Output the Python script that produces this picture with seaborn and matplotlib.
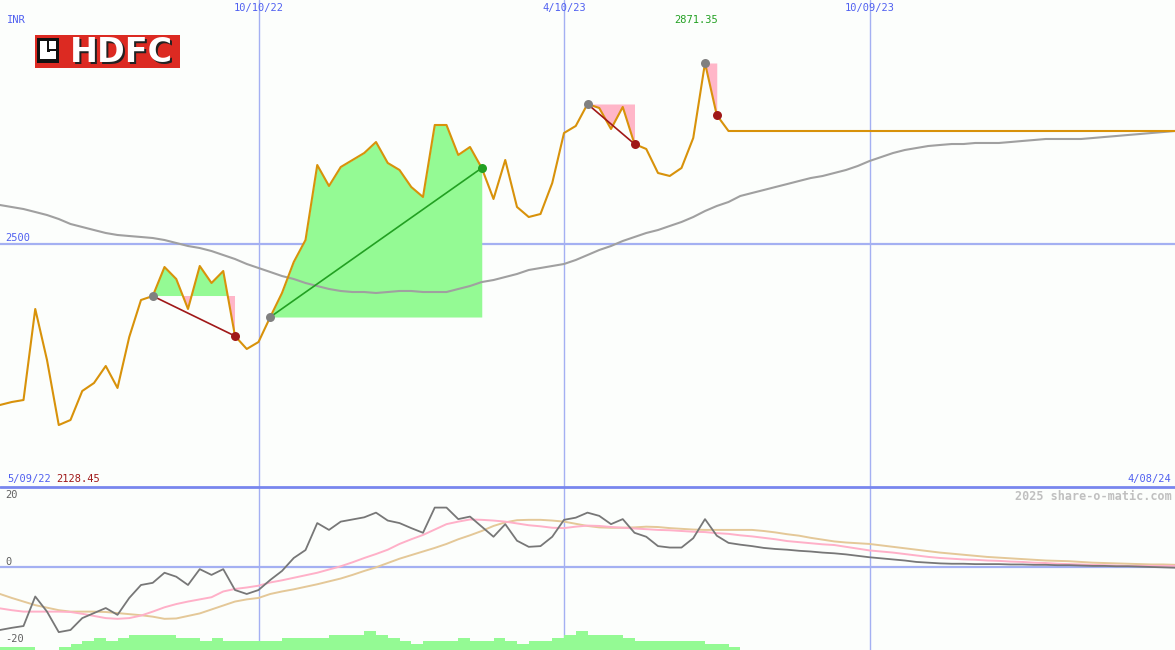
import matplotlib
matplotlib.use('Agg')
import matplotlib.pyplot as plt
import matplotlib.dates as mdates
import seaborn as sns
import pandas as pd
import numpy as np
from matplotlib.patches import Rectangle
from matplotlib.lines import Line2D
import matplotlib.transforms as mtrans

# ---------------- data ----------------
start_date = '2022-05-09'
n_weeks = 101

price = [2169.6, 2175.7, 2179.8, 2366.6, 2261.9, 2128.45, 2138.8, 2198.3, 2214.7, 2249.6,
         2204.5, 2309.1, 2385.0, 2393.2, 2452.7, 2428.1, 2366.6, 2454.8, 2419.9, 2444.5,
         2311.1, 2284.5, 2298.8, 2350.1, 2399.4, 2463.0, 2508.1, 2662.0, 2619.0, 2657.9,
         2672.3, 2686.7, 2709.2, 2666.2, 2651.8, 2616.9, 2596.4, 2744.1, 2744.1, 2682.6,
         2699.0, 2655.9, 2592.3, 2672.3, 2575.9, 2555.3, 2561.5, 2625.1, 2727.7, 2742.1,
         2787.2, 2779.0, 2735.9, 2781.1, 2705.1, 2694.9, 2645.6, 2639.5, 2655.9, 2717.5,
         2871.35, 2764.6, 2731.8, 2731.8, 2731.8, 2731.8, 2731.8, 2731.8, 2731.8, 2731.8,
         2731.8, 2731.8, 2731.8, 2731.8, 2731.8, 2731.8, 2731.8, 2731.8, 2731.8, 2731.8,
         2731.8, 2731.8, 2731.8, 2731.8, 2731.8, 2731.8, 2731.8, 2731.8, 2731.8, 2731.8,
         2731.8, 2731.8, 2731.8, 2731.8, 2731.8, 2731.8, 2731.8, 2731.8, 2731.8, 2731.8,
         2731.8]

moving_avg = [2579.9, 2575.8, 2571.7, 2565.6, 2559.4, 2551.2, 2541.0, 2534.8, 2528.6, 2522.5,
              2518.4, 2516.3, 2514.3, 2512.2, 2508.1, 2502.0, 2495.8, 2491.7, 2485.5, 2477.3,
              2469.1, 2458.9, 2450.7, 2442.5, 2434.2, 2428.1, 2419.9, 2413.7, 2407.6, 2403.5,
              2401.4, 2401.4, 2399.4, 2401.4, 2403.5, 2403.5, 2401.4, 2401.4, 2401.4, 2407.6,
              2413.7, 2421.9, 2426.0, 2432.2, 2438.4, 2446.6, 2450.7, 2454.8, 2458.9, 2467.1,
              2477.3, 2487.6, 2495.8, 2506.1, 2514.3, 2522.5, 2528.6, 2536.9, 2545.1, 2555.3,
              2567.6, 2577.9, 2586.1, 2598.4, 2604.6, 2610.7, 2616.9, 2623.0, 2629.2, 2635.3,
              2639.4, 2645.6, 2651.8, 2660.0, 2670.2, 2678.4, 2686.6, 2692.8, 2696.9, 2701.0,
              2703.1, 2705.1, 2705.1, 2707.2, 2707.2, 2707.2, 2709.2, 2711.3, 2713.3, 2715.4,
              2715.4, 2715.4, 2715.4, 2717.4, 2719.5, 2721.5, 2723.6, 2725.6, 2727.7, 2729.7,
              2731.8]

oscillator = [-17.5, -16.9, -16.4, -8.2, -12.4, -18.1, -17.5, -14.2, -12.8, -11.4,
              -13.3, -8.6, -5.0, -4.4, -1.6, -2.7, -5.0, -0.6, -2.2, -0.6,
              -6.4, -7.5, -6.4, -3.6, -1.1, 2.5, 4.7, 12.2, 10.3, 12.6,
              13.2, 13.8, 15.1, 12.9, 12.2, 10.8, 9.5, 16.5, 16.5, 13.3,
              14.0, 11.2, 8.4, 11.9, 7.3, 5.6, 5.8, 8.4, 13.1, 13.7,
              15.1, 14.2, 11.9, 13.3, 9.5, 8.4, 5.8, 5.4, 5.4, 8.0,
              13.3, 8.7, 6.7, 6.2, 5.8, 5.3, 5.0, 4.8, 4.5, 4.3,
              4.0, 3.8, 3.5, 3.1, 2.7, 2.4, 2.1, 1.8, 1.4, 1.2,
              1.0, 0.9, 0.9, 0.8, 0.8, 0.8, 0.7, 0.7, 0.6, 0.6,
              0.5, 0.5, 0.4, 0.3, 0.3, 0.2, 0.2, 0.1, 0.0, -0.1,
              -0.2]

signal_fast = [-11.5, -12.0, -12.4, -12.4, -12.4, -12.4, -12.5, -13.0, -13.6, -14.2,
               -14.4, -14.2, -13.5, -12.4, -11.2, -10.3, -9.6, -9.0, -8.4, -6.8,
               -6.1, -5.7, -5.2, -4.3, -3.7, -3.0, -2.3, -1.6, -0.7, 0.2,
               1.3, 2.5, 3.6, 4.8, 6.4, 7.7, 8.9, 10.4, 11.9, 12.6,
               13.2, 13.1, 12.9, 12.6, 12.1, 11.6, 11.3, 10.9, 10.8, 11.2,
               11.5, 11.4, 11.1, 10.9, 10.7, 10.5, 10.3, 10.2, 10.0, 9.8,
               9.7, 9.4, 9.2, 8.8, 8.5, 8.1, 7.7, 7.2, 6.9, 6.6,
               6.3, 6.1, 5.6, 5.1, 4.6, 4.3, 4.0, 3.6, 3.2, 2.8,
               2.5, 2.3, 2.1, 2.0, 1.8, 1.7, 1.5, 1.4, 1.2, 1.1,
               0.9, 0.8, 0.7, 0.6, 0.5, 0.4, 0.3, 0.3, 0.3, 0.3,
               0.3]

signal_slow = [-7.5, -8.6, -9.6, -10.6, -11.3, -12.0, -12.4, -12.4, -12.4, -12.5,
               -12.8, -13.1, -13.4, -13.8, -14.4, -14.3, -13.6, -12.9, -11.8, -10.7,
               -9.6, -9.0, -8.6, -7.5, -6.8, -6.2, -5.5, -4.8, -4.0, -3.2,
               -2.2, -1.1, -0.1, 1.1, 2.3, 3.3, 4.3, 5.3, 6.4, 7.7,
               8.8, 10.0, 11.4, 12.4, 13.0, 13.1, 13.1, 12.9, 12.6, 12.0,
               11.4, 11.0, 10.9, 10.9, 11.0, 11.2, 11.1, 10.8, 10.6, 10.4,
               10.3, 10.3, 10.3, 10.3, 10.3, 10.0, 9.6, 9.1, 8.7, 8.1,
               7.6, 7.1, 6.8, 6.6, 6.4, 6.0, 5.6, 5.2, 4.8, 4.4,
               4.0, 3.7, 3.4, 3.1, 2.8, 2.6, 2.4, 2.2, 2.0, 1.8,
               1.7, 1.6, 1.4, 1.2, 1.1, 1.0, 0.9, 0.8, 0.7, 0.7,
               0.6]

volume_bars = [0.9, 0.9, 0.9, 0.0, 0.0, 0.9, 1.8, 2.6, 3.4, 2.6,
               3.4, 4.3, 4.3, 4.3, 4.3, 3.4, 3.4, 2.6, 3.4, 2.6,
               2.6, 2.6, 2.6, 2.6, 3.4, 3.4, 3.4, 3.4, 4.3, 4.3,
               4.3, 5.2, 4.3, 3.4, 2.6, 1.8, 2.6, 2.6, 2.6, 3.4,
               2.6, 2.6, 3.4, 2.6, 1.8, 2.6, 2.6, 3.4, 4.3, 5.2,
               4.3, 4.3, 4.3, 3.4, 2.6, 2.6, 2.6, 2.6, 2.6, 2.6,
               1.8, 1.8, 0.9, 0.0, 0.0, 0.0, 0.0, 0.0, 0.0, 0.0,
               0.0, 0.0, 0.0, 0.0, 0.0, 0.0, 0.0, 0.0, 0.0, 0.0,
               0.0, 0.0, 0.0, 0.0, 0.0, 0.0, 0.0, 0.0, 0.0, 0.0,
               0.0, 0.0, 0.0, 0.0, 0.0, 0.0, 0.0, 0.0, 0.0, 0.0,
               0.0]

# trade signals: (start week index, end week index, kind)
signals = [(13, 20, 'sell'), (23, 41, 'buy'), (50, 54, 'sell'), (60, 61, 'sell')]

grid_dates = ['2022-10-10', '2023-04-10', '2023-10-09']
grid_labels = ['10/10/22', '4/10/23', '10/09/23']
start_label = '5/09/22'
end_label = '4/08/24'
price_grid = 2500

# ---------------- style ----------------
BG = '#fcfefc'
ORANGE = '#d8920a'
MAGRAY = '#a0a0a0'
GRID = '#a4b0f2'
DIVIDER = '#7886ee'
BLUE = '#5060f0'
GREEN_FILL = '#94fa94'
PINK_FILL = '#ffb6c8'
DARKRED = '#a01818'
GREEN_LINE = '#22a022'
DOT_GRAY = '#808080'

sns.set_theme(style='white')
plt.rcParams['font.family'] = ['DejaVu Sans Mono', 'DejaVu Sans']

dates = pd.date_range(start_date, periods=n_weeks, freq='7D')
dnum = mdates.date2num(dates.to_pydatetime())
df = pd.DataFrame({'date': dates, 'price': price, 'ma': moving_avg,
                   'osc': oscillator, 'fast': signal_fast, 'slow': signal_slow,
                   'vol': volume_bars})

fig = plt.figure(figsize=(11.75, 6.5), dpi=100, facecolor=BG)
ax = fig.add_axes([0, 163 / 650, 1, 487 / 650], facecolor=BG)
ax2 = fig.add_axes([0, 0, 1, 163 / 650], facecolor=BG)

# ---------------- main panel ----------------
ymin_main, ymax_main = 2001.3, 3000.6
p = np.array(price)

for gd in grid_dates:
    ax.axvline(pd.Timestamp(gd), color=GRID, lw=1.0, zorder=0)
ax.axhline(price_grid, color=GRID, lw=1.6, zorder=0)

for s, e, kind in signals:
    level = p[s]
    seg = slice(s, e + 1)
    ax.fill_between(dates[seg], p[seg], level, where=p[seg] >= level,
                    interpolate=True, color=GREEN_FILL, lw=0, zorder=1)
    ax.fill_between(dates[seg], p[seg], level, where=p[seg] <= level,
                    interpolate=True, color=PINK_FILL, lw=0, zorder=1)

sns.lineplot(data=df, x='date', y='ma', ax=ax, color=MAGRAY, lw=1.5, zorder=2)
sns.lineplot(data=df, x='date', y='price', ax=ax, color=ORANGE, lw=1.5, zorder=3)

for s, e, kind in signals:
    col = GREEN_LINE if kind == 'buy' else DARKRED
    if e - s > 1:
        ax.plot([dates[s], dates[e]], [p[s], p[e]], color=col, lw=1.2, zorder=4)
    ax.scatter([dates[s]], [p[s]], s=42, color=DOT_GRAY, zorder=5, lw=0)
    ax.scatter([dates[e]], [p[e]], s=42, color=col, zorder=5, lw=0)

ax.set_ylim(ymin_main, ymax_main)
ax.set_xlim(dates[0], dates[-1])
ax.set_axis_off()

# text in main panel
xt = ax.get_xaxis_transform()
for gd, gl in zip(grid_dates, grid_labels):
    ax.text(mdates.date2num(pd.Timestamp(gd).to_pydatetime()), 1 - 8 / 487, gl,
            transform=xt, ha='center', va='center', color=BLUE, fontsize=7.5)
ax.text(7 / 1175, 1 - 20 / 487, 'INR', transform=ax.transAxes, ha='left',
        va='center', color=BLUE, fontsize=7.5)
blend = mtrans.blended_transform_factory(ax.transAxes, ax.transData)
ax.text(5 / 1175, price_grid + 3, f'{price_grid}', transform=blend, ha='left',
        va='bottom', color=BLUE, fontsize=7.5)
imax = int(np.argmax(p))
imin = int(np.argmin(p))
max_tr = xt + mtrans.ScaledTranslation(-9 / 100, 0, fig.dpi_scale_trans)
ax.text(dnum[imax], 1 - 20 / 487, f'{p[imax]:.2f}', transform=max_tr,
        ha='center', va='center', color=GREEN_LINE, fontsize=7.5)
ax.text(7 / 1175, 8 / 487, start_label, transform=ax.transAxes, ha='left',
        va='center', color=BLUE, fontsize=7.5)
ax.text(56 / 1175, 8 / 487, f'{p[imin]:.2f}', transform=ax.transAxes, ha='left',
        va='center', color=DARKRED, fontsize=7.5)
ax.text(1171 / 1175, 8 / 487, end_label, transform=ax.transAxes, ha='right',
        va='center', color=BLUE, fontsize=7.5)

# ---------------- lower panel ----------------
ymin_low, ymax_low = -23.06, 22.22
for gd in grid_dates:
    ax2.axvline(pd.Timestamp(gd), color=GRID, lw=1.0, zorder=0)
ax2.axhline(0, color=GRID, lw=1.6, zorder=0)

ax2.bar(dates, df['vol'], width=7, align='edge', bottom=ymin_low,
        color=GREEN_FILL, lw=0, zorder=1)
sns.lineplot(data=df, x='date', y='slow', ax=ax2, color='#e4c898', lw=1.4, zorder=2)
sns.lineplot(data=df, x='date', y='fast', ax=ax2, color='#ffb0c8', lw=1.4, zorder=3)
sns.lineplot(data=df, x='date', y='osc', ax=ax2, color='#777777', lw=1.3, zorder=4)
ax2.set_ylim(ymin_low, ymax_low)
ax2.set_xlim(dates[0], dates[-1])
ax2.set_axis_off()

blend2 = mtrans.blended_transform_factory(ax2.transAxes, ax2.transData)
ax2.text(5 / 1175, 20, '20', transform=blend2, ha='left', va='center',
         color='#606060', fontsize=7.5)
ax2.text(5 / 1175, 1.4, '0', transform=blend2, ha='left', va='center',
         color='#606060', fontsize=7.5)
ax2.text(5 / 1175, -20, '-20', transform=blend2, ha='left', va='center',
         color='#606060', fontsize=7.5)
ax2.text(1172 / 1175, (650 - 496) / 163, '2025 share-o-matic.com',
         transform=ax2.transAxes, ha='right', va='center', color='#c0c0c0',
         fontsize=8.5, fontweight='bold')

# divider between panels
fig.add_artist(Line2D([0, 1], [1 - 487 / 650, 1 - 487 / 650], color=DIVIDER,
                      lw=2.0, transform=fig.transFigure))

# ---------------- logo ----------------
def fig_rect(x, y, w, h, **kw):
    fig.add_artist(Rectangle((x / 1175, 1 - (y + h) / 650), w / 1175, h / 650,
                             transform=fig.transFigure, **kw))

fig_rect(35, 35, 145, 33, color='#dc2a22', lw=0)
fig_rect(37, 38, 22, 25, color='#111111', lw=0)
fig_rect(40, 41, 7, 14, color='white', lw=0)
fig_rect(40, 52, 13, 7, color='white', lw=0)
fig_rect(49, 41, 7, 8, color='white', lw=0)
fig_rect(50, 51, 6, 8, color='white', lw=0)
fig.text(70 / 1175 + 0.0015, 1 - 52.5 / 650 - 0.003, 'HDFC', color='#222222',
         fontsize=24, fontweight='bold', family='DejaVu Sans', ha='left', va='center')
fig.text(70 / 1175, 1 - 52.5 / 650, 'HDFC', color='white', fontsize=24,
         fontweight='bold', family='DejaVu Sans', ha='left', va='center')

fig.savefig('out.png', dpi=100, facecolor=BG)
